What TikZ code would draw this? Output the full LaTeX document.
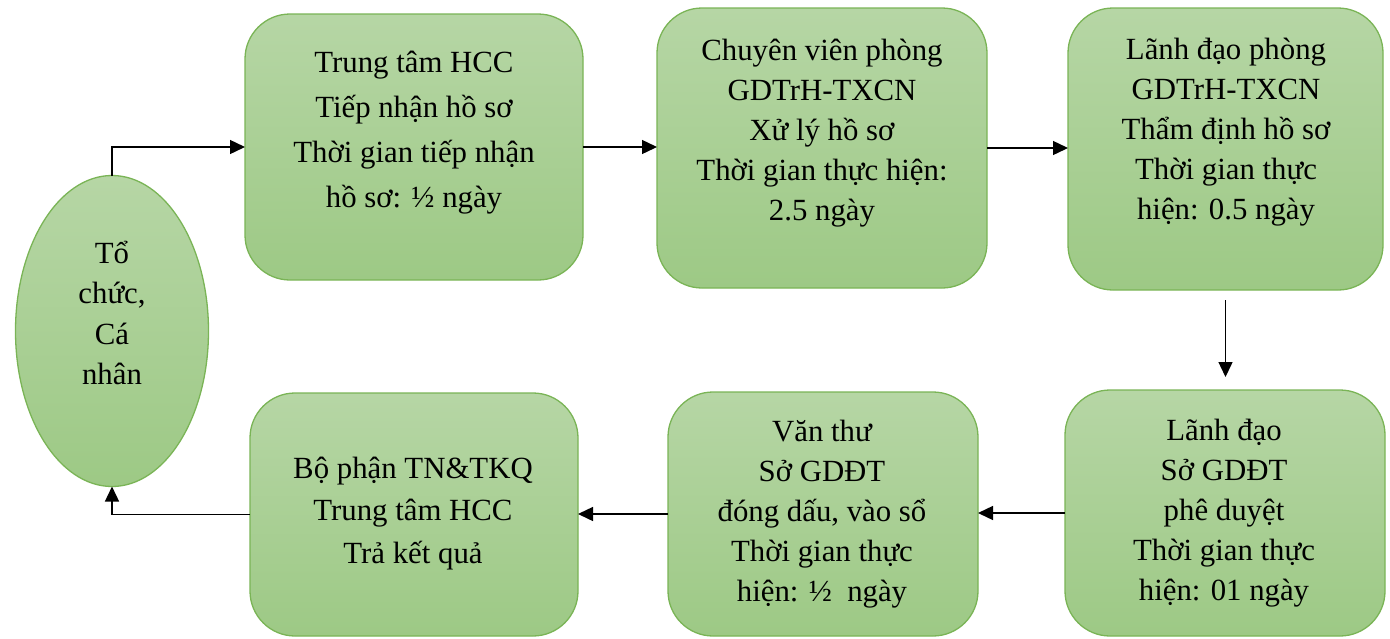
\documentclass[tikz,border=0pt]{standalone}
\usepackage{fontspec}
\setmainfont{Liberation Serif}
\usetikzlibrary{arrows.meta,shapes.geometric}
\definecolor{gtop}{RGB}{182,214,165}
\definecolor{gbot}{RGB}{157,201,133}
\definecolor{gedge}{RGB}{122,180,86}
\begin{document}
\begin{tikzpicture}[x=1pt,y=-1pt,
  box/.style={draw=gedge, line width=1.3pt, rounded corners=45pt, top color=gtop, bottom color=gbot, inner sep=0pt, outer sep=0pt},
  ell/.style={ellipse, draw=gedge, line width=1.3pt, top color=gtop, bottom color=gbot, inner sep=0pt, outer sep=0pt},
  txt/.style={align=center, inner sep=0pt, font=\fontsize{30.8}{40}\selectfont},
  arr/.style={line width=1.4pt, -{Triangle[length=15pt,width=14pt]}}]
\useasboundingbox (0,0) rectangle (1390,638);
% shapes
\node[ell, minimum width=193pt, minimum height=311pt] (e) at (112,331) {};
\node[box, minimum width=338pt, minimum height=266pt] (b1) at (414,147) {};
\node[box, minimum width=330pt, minimum height=280pt] (b2) at (822,148) {};
\node[box, minimum width=315pt, minimum height=282pt] (b3) at (1225.5,149) {};
\node[box, minimum width=320pt, minimum height=246pt] (b6) at (1225,513) {};
\node[box, minimum width=310pt, minimum height=244pt] (b5) at (823,514) {};
\node[box, minimum width=328pt, minimum height=243pt] (b4) at (414,514.5) {};
% texts
\node[txt, font=\fontsize{30.8}{40.5}\selectfont] (te) at (112,313) {Tổ\\chức,\\Cá\\nhân};
\node[txt, font=\fontsize{30.8}{45}\selectfont] (t1) at (414,133) {Trung tâm HCC\\Tiếp nhận hồ sơ\\Thời gian tiếp nhận\\hồ sơ: ½ ngày};
\node[txt] (t2) at (822,133) {Chuyên viên phòng\\GDTrH-TXCN\\Xử lý hồ sơ\\Thời gian thực hiện:\\2.5 ngày};
\node[txt] (t3) at (1226,132) {Lãnh đạo phòng\\GDTrH-TXCN\\Thẩm định hồ sơ\\Thời gian thực\\hiện: 0.5 ngày};
\node[txt] (t6) at (1224,513) {Lãnh đạo\\Sở GDĐT\\phê duyệt\\Thời gian thực\\hiện: 01 ngày};
\node[txt] (t5) at (822,514.5) {Văn thư\\Sở GDĐT\\đóng dấu, vào sổ\\Thời gian thực\\hiện: ½~ ngày};
\node[txt, font=\fontsize{30.8}{42.5}\selectfont] (t4) at (413,513.5) {Bộ phận TN\&TKQ\\Trung tâm HCC\\Trả kết quả};
% connectors
\draw[arr] (e.north) |- (b1.west);
\draw[arr] (b1.east) -- (b1.east -| b2.west);
\draw[arr] (b2.east) -- (b2.east -| b3.west);
\draw[arr, shorten <=10pt, shorten >=13pt] (b3.south) -- (b3.south |- b6.north);
\draw[arr] (b6.west) -- (b6.west -| b5.east);
\draw[arr] (b5.west) -- (b5.west -| b4.east);
\draw[arr] (b4.west) -| (e.south);
\end{tikzpicture}
\end{document}
